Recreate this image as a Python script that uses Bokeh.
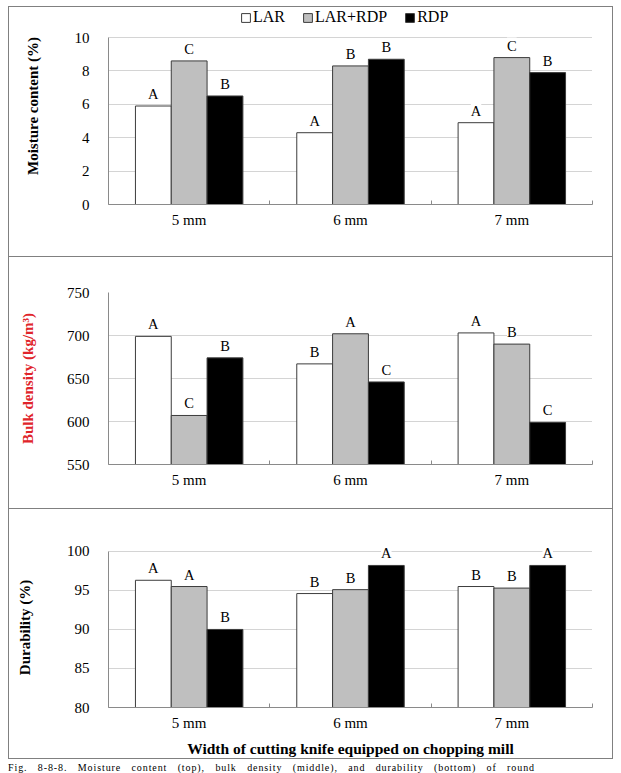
from bokeh.plotting import figure
from bokeh.models import (Range1d, FixedTicker, ColumnDataSource, LabelSet,
                          Legend, LegendItem, Div)
from bokeh.layouts import column
from bokeh.core.properties import value
from bokeh.embed import file_html
from bokeh.resources import INLINE

# ---------------- data ----------------
categories = ["5 mm", "6 mm", "7 mm"]
series_names = ["LAR", "LAR+RDP", "RDP"]

moisture_lar = [5.9, 4.3, 4.9]
moisture_lar_rdp = [8.6, 8.3, 8.8]
moisture_rdp = [6.5, 8.7, 7.9]
moisture_sig_lar = ["A", "A", "A"]
moisture_sig_lar_rdp = ["C", "B", "C"]
moisture_sig_rdp = ["B", "B", "B"]
moisture_ticks = [0, 2, 4, 6, 8, 10]

density_lar = [699, 667, 703]
density_lar_rdp = [607, 702, 690]
density_rdp = [674, 646, 599]
density_sig_lar = ["A", "B", "A"]
density_sig_lar_rdp = ["C", "A", "B"]
density_sig_rdp = ["B", "C", "C"]
density_ticks = [550, 600, 650, 700, 750]

durability_lar = [96.3, 94.6, 95.5]
durability_lar_rdp = [95.5, 95.1, 95.3]
durability_rdp = [90.0, 98.2, 98.2]
durability_sig_lar = ["A", "B", "B"]
durability_sig_lar_rdp = ["A", "B", "B"]
durability_sig_rdp = ["B", "A", "A"]
durability_ticks = [80, 85, 90, 95, 100]

x_title = "Width of cutting knife equipped on chopping mill"
caption = ("Fig. 8-8-8. Moisture content (top), bulk density (middle), "
           "and durability (bottom) of round")

# ---------------- styles ----------------
FONT = "Liberation Serif"
FILLS = ["#ffffff", "#bfbfbf", "#000000"]
BAR_LINE = "#3c3c3c"
AXIS = "#8a8a8a"
GRID = "#a8a8a8"
BORDER = "#808080"
BAR_W = 0.444
OFFSETS = [-0.444, 0.0, 0.444]
N = len(categories)


def bar_x(off):
    return [2 * i + 1 + off for i in range(N)]


def sides(top=False, bottom=False):
    s = f"inset 1px 0 0 0 {BORDER}, inset -1px 0 0 0 {BORDER}"
    if top:
        s += f", inset 0 1px 0 0 {BORDER}"
    if bottom:
        s += f", inset 0 -1px 0 0 {BORDER}"
    return s


def make_panel(series, letters, y0, y1, yview_end, yticks, ylabel, ylabel_color,
               height, mb_left, mb_top, mb_bottom, ylabel_standoff,
               xlabel=None, styles=None):
    p = figure(width=605, height=height, output_backend="svg",
               toolbar_location=None,
               x_range=Range1d(0, 2 * N), y_range=Range1d(y0, yview_end),
               min_border_left=mb_left, min_border_right=21,
               min_border_top=mb_top, min_border_bottom=mb_bottom,
               styles=styles or {})
    p.outline_line_color = None
    p.background_fill_color = None
    p.border_fill_color = None

    renderers = []
    for vals, sig, off, fill in zip(series, letters, OFFSETS, FILLS):
        src = ColumnDataSource(dict(x=bar_x(off), top=vals, sig=sig))
        r = p.vbar(x="x", top="top", bottom=y0, width=BAR_W, source=src,
                   fill_color=fill, line_color=BAR_LINE, line_width=1)
        renderers.append(r)
        lbl = LabelSet(x="x", y="top", text="sig", source=src,
                       y_offset=7, text_align="center",
                       text_baseline="alphabetic",
                       text_font=value(FONT), text_font_size="14.5px",
                       text_color="#000000",
                       background_fill_color="white")
        p.add_layout(lbl)

    # x axis: labels at group centres, small inward ticks at group bounds
    xt = FixedTicker(ticks=[2 * i + 1 for i in range(N)],
                     minor_ticks=[2 * i for i in range(N + 1)])
    p.xaxis.ticker = xt
    p.xaxis.major_label_overrides = {2 * i + 1: c for i, c in enumerate(categories)}
    p.xaxis.major_tick_line_color = None
    p.xaxis.major_tick_in = 0
    p.xaxis.major_tick_out = 0
    p.xaxis.minor_tick_in = 4
    p.xaxis.minor_tick_out = 0
    p.xaxis.minor_tick_line_color = AXIS
    p.xaxis.axis_line_color = AXIS
    p.xaxis.major_label_standoff = 7
    p.xaxis.major_label_text_font = FONT
    p.xaxis.major_label_text_font_size = "15px"
    p.xaxis.major_label_text_color = "#000000"
    p.xgrid.grid_line_color = None
    if xlabel:
        p.xaxis.axis_label = xlabel
        p.xaxis.axis_label_text_font = FONT
        p.xaxis.axis_label_text_font_size = "15.5px"
        p.xaxis.axis_label_text_font_style = "bold"
        p.xaxis.axis_label_text_color = "#000000"
        p.xaxis.axis_label_standoff = 6

    # y axis (axis line limited to the data range)
    yt = FixedTicker(ticks=yticks, minor_ticks=[])
    p.yaxis.ticker = yt
    p.ygrid.ticker = yt
    p.yaxis.bounds = (y0, y1)
    p.yaxis.axis_line_color = AXIS
    p.yaxis.major_tick_line_color = None
    p.yaxis.major_tick_in = 0
    p.yaxis.major_tick_out = 0
    p.yaxis.minor_tick_line_color = None
    p.yaxis.minor_tick_in = 0
    p.yaxis.minor_tick_out = 0
    p.yaxis.major_label_standoff = 19
    p.yaxis.major_label_text_font = FONT
    p.yaxis.major_label_text_font_size = "15px"
    p.yaxis.major_label_text_color = "#000000"
    p.yaxis.axis_label = ylabel
    p.yaxis.axis_label_text_font = FONT
    p.yaxis.axis_label_text_font_size = "15px"
    p.yaxis.axis_label_text_font_style = "bold"
    p.yaxis.axis_label_text_color = ylabel_color
    p.yaxis.axis_label_standoff = ylabel_standoff
    p.ygrid.grid_line_color = GRID
    p.ygrid.grid_line_dash = "1 1"
    p.ygrid.grid_line_width = 1
    return p, renderers


# page y: p1 6-256, p2 256-508, p3 508-759, caption 759-771
p1, r1 = make_panel([moisture_lar, moisture_lar_rdp, moisture_rdp],
                    [moisture_sig_lar, moisture_sig_lar_rdp, moisture_sig_rdp],
                    0, 10, 11.8, moisture_ticks, "Moisture content (%)", "#000000",
                    250, 100, 1, 52, 31,
                    styles={"box-shadow": sides(top=True)})
legend = Legend(items=[LegendItem(label=name, renderers=[r])
                       for name, r in zip(series_names, r1)],
                orientation="horizontal", location=(132, 178), margin=0,
                padding=0, spacing=17, label_standoff=2,
                glyph_width=11, glyph_height=11, label_height=16,
                label_text_font=FONT, label_text_font_size="16px",
                label_text_color="#000000",
                border_line_color=None, background_fill_alpha=0)
p1.add_layout(legend, "center")

p2, _ = make_panel([density_lar, density_lar_rdp, density_rdp],
                   [density_sig_lar, density_sig_lar_rdp, density_sig_rdp],
                   550, 750, 750, density_ticks, "Bulk density (kg/m\u00b3)",
                   "#e0242a", 252, 94, 36, 44, 28,
                   styles={"box-shadow": sides(top=True)})
p3, _ = make_panel([durability_lar, durability_lar_rdp, durability_rdp],
                   [durability_sig_lar, durability_sig_lar_rdp, durability_sig_rdp],
                   80, 100, 100.5, durability_ticks, "Durability (%)", "#000000",
                   251, 94, 39, 47, 31, xlabel=x_title,
                   styles={"box-shadow": sides(top=True, bottom=True)})

cap = Div(text=('<div style="font-family:\'Liberation Serif\';font-size:10px;'
                'line-height:11px;white-space:nowrap;color:#000;'
                'letter-spacing:0.9px;word-spacing:7px;">'
                + caption + '</div>'),
          width=605, height=12, margin=0)

layout = column(p1, p2, p3, cap, spacing=0, margin=(6, 0, 0, 8))

open("out.html", "w").write(file_html(layout, INLINE))
